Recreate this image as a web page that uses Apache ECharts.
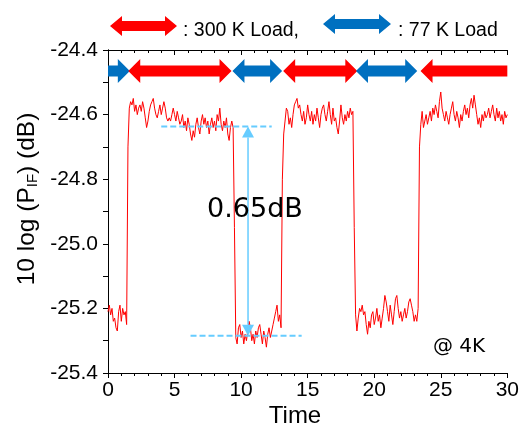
<!DOCTYPE html>
<html>
<head>
<meta charset="utf-8">
<script src="https://cdn.jsdelivr.net/npm/echarts@6/dist/echarts.min.js"></script>
<style>
html,body{margin:0;padding:0;background:#fff;}
#chart{width:522px;height:428px;}
</style>
</head>
<body>
<div id="chart"></div>
<script>
// ---- data ----
const sampleStep = 0.1; // time between samples
const signal = [
  // 0.0 - 1.4  (77 K)
  -25.21,-25.19,-25.22,-25.20,-25.24,-25.23,-25.26,-25.27,-25.21,-25.19,-25.24,-25.20,-25.22,-25.21,-25.25,
  -24.70,
  // 1.6 - 9.4  (300 K)
  -24.58,-24.56,-24.57,-24.55,-24.59,-24.57,-24.60,-24.58,-24.57,-24.59,
  -24.56,-24.58,-24.61,-24.64,-24.62,-24.59,-24.57,-24.56,-24.55,-24.58,
  -24.60,-24.61,-24.59,-24.57,-24.60,-24.58,-24.56,-24.58,-24.61,-24.62,
  -24.61,-24.62,-24.60,-24.58,-24.60,-24.62,-24.59,-24.61,-24.63,-24.62,
  -24.60,-24.64,-24.62,-24.65,-24.61,-24.63,-24.66,-24.68,-24.65,-24.67,
  -24.63,-24.61,-24.64,-24.66,-24.62,-24.60,-24.63,-24.61,-24.64,-24.62,
  -24.66,-24.63,-24.61,-24.64,-24.62,-24.65,-24.60,-24.62,-24.58,-24.63,
  -24.65,-24.62,-24.64,-24.61,-24.66,-24.68,-24.64,-24.62,-24.64,
  -24.95,
  // 9.6 - 13.0 (77 K)
  -25.29,-25.31,-25.26,-25.25,-25.29,-25.27,-25.31,-25.28,-25.30,-25.27,
  -25.24,-25.26,-25.30,-25.28,-25.31,-25.27,-25.29,-25.26,-25.25,-25.28,
  -25.31,-25.27,-25.29,-25.32,-25.28,-25.26,-25.29,-25.27,-25.25,-25.23,
  -25.21,-25.19,-25.24,-25.22,-25.26,
  -24.80,
  // 13.2 - 18.4 (300 K)
  -24.66,-24.62,-24.58,-24.59,-24.63,-24.61,-24.64,-24.60,-24.57,-24.56,
  -24.55,-24.58,-24.57,-24.60,-24.62,-24.59,-24.63,-24.61,-24.57,-24.60,
  -24.62,-24.59,-24.63,-24.60,-24.62,-24.58,-24.61,-24.64,-24.60,-24.58,
  -24.57,-24.60,-24.62,-24.59,-24.56,-24.60,-24.63,-24.58,-24.62,-24.61,
  -24.64,-24.66,-24.62,-24.57,-24.61,-24.63,-24.60,-24.62,-24.59,-24.61,
  -24.58,-24.60,-24.59,
  -24.95,
  // 18.6 - 23.3 (77 K)
  -25.22,-25.27,-25.23,-25.20,-25.21,-25.19,-25.22,-25.21,-25.25,-25.28,
  -25.24,-25.26,-25.22,-25.21,-25.25,-25.23,-25.20,-25.24,-25.22,-25.26,
  -25.23,-25.20,-25.16,-25.18,-25.21,-25.24,-25.19,-25.22,-25.25,-25.21,
  -25.17,-25.16,-25.20,-25.23,-25.21,-25.24,-25.22,-25.20,-25.23,-25.21,
  -25.18,-25.17,-25.19,-25.21,-25.24,-25.22,-25.24,-25.20,
  -24.70,
  // 23.5 - 30.0 (300 K)
  -24.63,-24.59,-24.64,-24.62,-24.60,-24.63,-24.61,-24.59,-24.62,-24.58,
  -24.60,-24.57,-24.59,-24.61,-24.56,-24.53,-24.58,-24.60,-24.62,-24.59,
  -24.61,-24.63,-24.60,-24.58,-24.56,-24.60,-24.62,-24.59,-24.61,-24.64,
  -24.60,-24.62,-24.59,-24.57,-24.60,-24.58,-24.61,-24.57,-24.55,-24.58,
  -24.54,-24.57,-24.60,-24.63,-24.61,-24.64,-24.60,-24.62,-24.59,-24.61,
  -24.60,-24.58,-24.61,-24.59,-24.57,-24.60,-24.62,-24.58,-24.61,-24.59,
  -24.62,-24.60,-24.63,-24.59,-24.61,-24.60
];

// load indicator arrows (time ranges)
const arrowStart = [0, 1.52, 9.35, 13.16, 18.63, 23.48];
const arrowEnd   = [1.64, 9.28, 13.08, 18.73, 23.23, 30];
const arrowLoad  = ['77', '300', '77', '300', '77', '300'];
const arrowHeadLeft  = [false, true, true, true, true, true];
const arrowHeadRight = [true, true, true, true, true, false];
const arrowLevel = -24.465;

// 0.65 dB difference marker
const upperLevel = -24.637;
const lowerLevel = -25.285;
const upperDashRange = [4.0, 12.3];
const lowerDashRange = [6.2, 14.55];
const markerTime = 10.52;

const xMin = 0, xMax = 30, xInterval = 5;
const yMin = -25.4, yMax = -24.4, yInterval = 0.2;

// ---- chart ----
const RED = '#ff0000', BLUE = '#0070c0', LIGHT = '#66ccff';
const FONT = "'Liberation Sans', Arial, sans-serif";

const lineData = signal.map((v, i) => [+(i * sampleStep).toFixed(1), v]);
const arrowData = arrowStart.map((s, i) => [s, arrowEnd[i], arrowLevel, i]);

function arrowPoints(x1, x2, y, hl, hh, sh, headL, headR) {
  const pts = [];
  if (headL) {
    pts.push([x1, y], [x1 + hl, y - hh], [x1 + hl, y - sh]);
  } else {
    pts.push([x1, y - sh]);
  }
  if (headR) {
    pts.push([x2 - hl, y - sh], [x2 - hl, y - hh], [x2, y], [x2 - hl, y + hh], [x2 - hl, y + sh]);
  } else {
    pts.push([x2, y - sh], [x2, y + sh]);
  }
  if (headL) {
    pts.push([x1 + hl, y + sh], [x1 + hl, y + hh]);
  } else {
    pts.push([x1, y + sh]);
  }
  return pts;
}

const chart = echarts.init(document.getElementById('chart'), null, {renderer: 'canvas'});

const axisLine = {show: true, lineStyle: {color: '#000', width: 1}};

const option = {
  backgroundColor: '#fff',
  animation: false,
  grid: {left: 108, right: 12, top: 50, bottom: 55, containLabel: false},
  xAxis: [
    {
      type: 'value', position: 'bottom', min: xMin, max: xMax, interval: xInterval,
      axisLine: axisLine,
      axisTick: {show: true, inside: false, length: 5, lineStyle: {color: '#000'}},
      minorTick: {show: true, splitNumber: 5, length: 3, lineStyle: {color: '#000'}},
      axisLabel: {color: '#000', fontSize: 21, fontFamily: FONT, margin: 7},
      splitLine: {show: false}
    },
    {
      type: 'value', position: 'top', min: xMin, max: xMax, interval: xInterval,
      axisLine: axisLine,
      axisTick: {show: true, inside: true, length: 5, lineStyle: {color: '#000'}},
      minorTick: {show: true, splitNumber: 5, length: 3, lineStyle: {color: '#000'}},
      axisLabel: {show: false},
      splitLine: {show: false}
    }
  ],
  yAxis: [
    {
      type: 'value', position: 'left', min: yMin, max: yMax, interval: yInterval,
      axisLine: axisLine,
      axisTick: {show: true, inside: false, length: 5, lineStyle: {color: '#000'}},
      minorTick: {show: true, splitNumber: 2, length: 5, lineStyle: {color: '#000'}},
      axisLabel: {color: '#000', fontSize: 21, fontFamily: FONT, margin: 10,
        formatter: v => v.toFixed(1)},
      splitLine: {show: false}
    },
    {
      type: 'value', position: 'right', min: yMin, max: yMax, interval: yInterval,
      axisLine: axisLine,
      axisTick: {show: true, inside: true, length: 4, lineStyle: {color: '#000'}},
      minorTick: {show: true, splitNumber: 2, length: 4, lineStyle: {color: '#000'}},
      axisLabel: {show: false},
      splitLine: {show: false}
    }
  ],
  series: [
    {
      type: 'line', xAxisIndex: 0, yAxisIndex: 0,
      data: lineData, showSymbol: false, symbol: 'none',
      lineStyle: {color: RED, width: 1}, z: 3
    },
    {
      // dashed reference levels
      type: 'line', xAxisIndex: 0, yAxisIndex: 0, symbol: 'none',
      data: [[upperDashRange[0], upperLevel], [upperDashRange[1], upperLevel]],
      lineStyle: {color: LIGHT, width: 2, type: [6, 3]}, z: 4
    },
    {
      type: 'line', xAxisIndex: 0, yAxisIndex: 0, symbol: 'none',
      data: [[lowerDashRange[0], lowerLevel], [lowerDashRange[1], lowerLevel]],
      lineStyle: {color: LIGHT, width: 2, type: [6, 3]}, z: 4
    },
    {
      // vertical double arrow
      type: 'custom', xAxisIndex: 0, yAxisIndex: 0, z: 4,
      data: [[markerTime, upperLevel, lowerLevel]],
      renderItem: function (params, api) {
        const top = api.coord([api.value(0), api.value(1)]);
        const bot = api.coord([api.value(0), api.value(2)]);
        const hw = 6, hl = 11;
        return {
          type: 'group',
          children: [
            {type: 'line', shape: {x1: top[0], y1: top[1] + hl, x2: bot[0], y2: bot[1] - hl},
             style: {stroke: LIGHT, lineWidth: 1.5}},
            {type: 'polygon', shape: {points: [[top[0], top[1]], [top[0] - hw, top[1] + hl], [top[0] + hw, top[1] + hl]]},
             style: {fill: LIGHT}},
            {type: 'polygon', shape: {points: [[bot[0], bot[1]], [bot[0] - hw, bot[1] - hl], [bot[0] + hw, bot[1] - hl]]},
             style: {fill: LIGHT}}
          ]
        };
      }
    },
    {
      // load arrows
      type: 'custom', xAxisIndex: 0, yAxisIndex: 0, z: 5, clip: true,
      data: arrowData,
      renderItem: function (params, api) {
        const i = api.value(3);
        const p1 = api.coord([api.value(0), api.value(2)]);
        const p2 = api.coord([api.value(1), api.value(2)]);
        return {
          type: 'polygon',
          shape: {points: arrowPoints(p1[0], p2[0], p1[1], 12, 12, 5.5, arrowHeadLeft[i], arrowHeadRight[i])},
          style: {fill: arrowLoad[i] === '300' ? RED : BLUE}
        };
      }
    }
  ],
  graphic: [
    {type: 'polygon', shape: {points: arrowPoints(110, 177, 26, 12, 10, 5, true, true)}, style: {fill: RED}},
    {type: 'text', x: 183, y: 31, style: {text: ': 300 K Load,', font: '19.5px ' + FONT, fill: '#000', textAlign: 'left', textVerticalAlign: 'middle'}},
    {type: 'polygon', shape: {points: arrowPoints(323, 391, 24, 12, 10, 5, true, true)}, style: {fill: BLUE}},
    {type: 'text', x: 398, y: 31, style: {text: ': 77 K Load', font: '19.5px ' + FONT, fill: '#000', textAlign: 'left', textVerticalAlign: 'middle'}},
    {type: 'text', x: 295, y: 416, style: {text: 'Time', font: '24px ' + FONT, fill: '#000', textAlign: 'center', textVerticalAlign: 'middle'}},
    {type: 'text', x: 27, y: 199, rotation: Math.PI / 2,
     style: {
       text: '{a|10 log (P}{s|IF}{a|) (dB)}',
       textAlign: 'center', textVerticalAlign: 'middle',
       rich: {
         a: {fontSize: 24.5, fontFamily: FONT, fill: '#000', color: '#000', lineHeight: 30, verticalAlign: 'middle'},
         s: {fontSize: 15, fontFamily: FONT, fill: '#000', color: '#000', lineHeight: 30, verticalAlign: 'bottom', padding: [0, 0, 2, 0]}
       }
     }},
    {type: 'text', x: 255, y: 210, z: 10, style: {text: '0.65dB', font: "27px 'DejaVu Sans', sans-serif", fill: '#000', textAlign: 'center', textVerticalAlign: 'middle'}},
    {type: 'text', x: 459, y: 347, style: {text: '@ 4K', font: "20px 'DejaVu Sans', sans-serif", fill: '#000', textAlign: 'center', textVerticalAlign: 'middle'}}
  ]
};

chart.setOption(option);
</script>
</body>
</html>
